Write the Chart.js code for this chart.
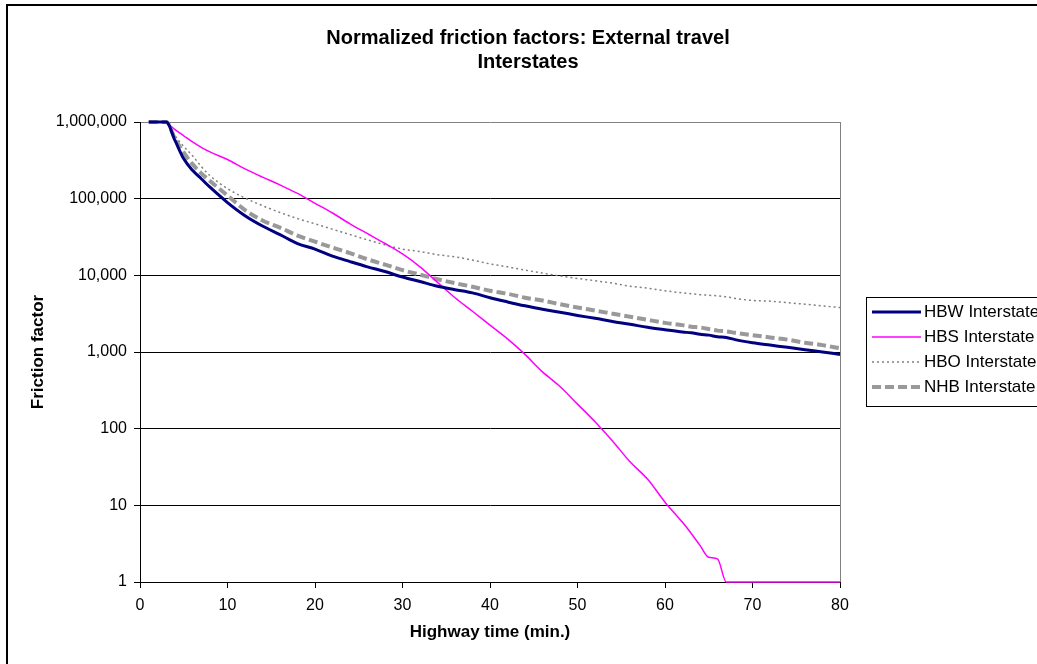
<!DOCTYPE html>
<html>
<head>
<meta charset="utf-8">
<title>Normalized friction factors: External travel</title>
<script src="https://cdn.jsdelivr.net/npm/chart.js@4.4.1/dist/chart.umd.min.js"></script>
<style>
    html, body { margin: 0; padding: 0; background: #fff; }
    #wrap { width: 1037px; height: 664px; }
</style>
</head>
<body>
<div id="wrap"><canvas id="frictionChart" width="1037" height="664"></canvas></div>
<script>
// highway time in minutes
const minutes = [1, 2, 3, 4, 5, 6, 7, 8, 10, 12, 14, 16, 18, 20, 22, 24, 26, 28, 30, 32, 34, 36, 38, 40,
    42, 44, 46, 48, 50, 52, 54, 56, 58, 60, 62, 63, 64, 65, 66, 67, 68, 70, 72, 74, 76, 78, 80];

const hbwInterstate = [1000000, 1000000, 1000000, 575000, 331000, 234000, 182000, 141000, 89000, 60000,
    44000, 34000, 26000, 22000, 17800, 15100, 12900, 11200, 9500, 8300, 7200, 6500, 5900, 5100,
    4500, 4000, 3600, 3300, 3000, 2750, 2500, 2300, 2100, 1950, 1820, 1780, 1700, 1660, 1580, 1550,
    1450, 1320, 1230, 1150, 1070, 1000, 930];

const hbsInterstate = [1000000, 1000000, 970000, 794000, 661000, 550000, 468000, 407000, 324000, 245000,
    191000, 151000, 117000, 87000, 65000, 47000, 35000, 26000, 19000, 12900, 8100, 5100, 3400, 2240,
    1480, 930, 550, 355, 209, 123, 69, 37, 22, 11, 6, 4.3, 3.0, 2.1, 2.0, 1,
    1, 1, 1, 1, 1, 1, 1];

const hboInterstate = [1000000, 1000000, 1000000, 661000, 479000, 363000, 263000, 200000, 135000, 102000,
    81000, 66000, 55000, 47000, 40000, 34000, 29000, 25000, 22000, 20400, 18600, 17400, 15800, 14100,
    12900, 11700, 10700, 9800, 9100, 8500, 7900, 7200, 6800, 6300, 5900, 5750, 5600, 5500, 5400, 5250,
    5000, 4700, 4600, 4400, 4200, 4000, 3800];

const nhbInterstate = [1000000, 1000000, 1000000, 603000, 398000, 282000, 214000, 170000, 110000, 71000,
    52000, 42000, 33000, 27500, 23000, 19500, 16200, 13800, 11700, 10200, 8900, 7900, 7100, 6300,
    5750, 5100, 4700, 4200, 3800, 3470, 3160, 2880, 2630, 2400, 2240, 2140, 2090, 2000, 1900, 1860,
    1780, 1660, 1550, 1450, 1320, 1230, 1120];

const yTicks = [1, 10, 100, 1000, 10000, 100000, 1000000];

const FONT = '"Liberation Sans", Arial, sans-serif';

function points(values) {
    return minutes.map((m, i) => ({ x: m, y: values[i] }));
}

// outer frame, right edge of the plot and the boxed legend
const frameAndLegend = {
    id: 'frameAndLegend',
    beforeDraw(chart) {
        const ctx = chart.ctx;
        ctx.save();
        ctx.fillStyle = '#fff';
        ctx.fillRect(0, 0, chart.width, chart.height);
        ctx.strokeStyle = '#000';
        ctx.lineWidth = 2;
        ctx.strokeRect(7, 5, 2000, 2000);
        ctx.restore();
    },
    beforeDatasetsDraw(chart) {
        const { ctx, chartArea } = chart;
        ctx.save();
        ctx.strokeStyle = '#808080';
        ctx.lineWidth = 1;
        ctx.beginPath();
        ctx.moveTo(chartArea.right + 0.5, chartArea.top);
        ctx.lineTo(chartArea.right + 0.5, chartArea.bottom);
        ctx.stroke();
        ctx.restore();
    },
    afterDraw(chart) {
        const ctx = chart.ctx;
        ctx.save();
        ctx.fillStyle = '#fff';
        ctx.fillRect(866, 297, 300, 110);
        ctx.strokeStyle = '#000';
        ctx.lineWidth = 1;
        ctx.strokeRect(866.5, 297.5, 300, 109);
        chart.data.datasets.forEach((ds, i) => {
            const y = 312 + i * 25;
            ctx.strokeStyle = ds.borderColor;
            ctx.lineWidth = ds.borderWidth;
            ctx.setLineDash(ds.borderDash || []);
            ctx.beginPath();
            ctx.moveTo(872, y);
            ctx.lineTo(921, y);
            ctx.stroke();
            ctx.setLineDash([]);
            ctx.fillStyle = '#000';
            ctx.font = '17px ' + FONT;
            ctx.textBaseline = 'middle';
            ctx.fillText(ds.label, 924, y);
        });
        ctx.restore();
    }
};

const ctx = document.getElementById('frictionChart').getContext('2d');

new Chart(ctx, {
    type: 'line',
    data: {
        datasets: [
            { label: 'HBW Interstate', data: points(hbwInterstate), borderColor: '#000080', borderWidth: 3 },
            { label: 'HBS Interstate', data: points(hbsInterstate), borderColor: '#ff00ff', borderWidth: 1.5 },
            { label: 'HBO Interstate', data: points(hboInterstate), borderColor: '#808080', borderWidth: 1.5, borderDash: [2, 3] },
            { label: 'NHB Interstate', data: points(nhbInterstate), borderColor: '#999999', borderWidth: 4, borderDash: [9, 4] }
        ]
    },
    options: {
        responsive: false,
        animation: false,
        devicePixelRatio: 1,
        elements: {
            point: { radius: 0, hoverRadius: 0 },
            line: { cubicInterpolationMode: 'monotone', fill: false }
        },
        datasets: { line: { clip: 4 } },
        layout: { padding: { left: 19, right: 0, top: 0, bottom: 0 } },
        plugins: {
            legend: { display: false },
            tooltip: { enabled: false },
            title: {
                display: true,
                text: ['Normalized friction factors: External travel', 'Interstates'],
                color: '#000',
                font: { family: FONT, size: 20, weight: 'bold', lineHeight: 1.2 },
                padding: { top: 26, bottom: 48 }
            }
        },
        scales: {
            x: {
                type: 'linear',
                min: 0,
                max: 80,
                ticks: { stepSize: 10, color: '#000', font: { family: FONT, size: 16 }, padding: 8, maxRotation: 0 },
                grid: { drawOnChartArea: false, drawTicks: true, tickLength: 6, tickColor: '#000' },
                border: { color: '#000', width: 1 },
                title: {
                    display: true,
                    text: 'Highway time (min.)',
                    color: '#000',
                    font: { family: FONT, size: 17, weight: 'bold' },
                    padding: { top: 0, bottom: 21 }
                },
                afterFit(scale) { scale.height = 82; }
            },
            y: {
                type: 'logarithmic',
                min: 1,
                max: 1000000,
                afterBuildTicks(scale) { scale.ticks = yTicks.map(v => ({ value: v })); },
                ticks: {
                    color: '#000',
                    font: { family: FONT, size: 16 },
                    padding: 7,
                    callback: v => Number(v).toLocaleString('en-US')
                },
                grid: {
                    color: c => (c.tick && c.tick.value === 1000000 ? '#808080' : '#000'),
                    tickLength: 6,
                    tickColor: '#000'
                },
                border: { color: '#000', width: 1 },
                title: {
                    display: true,
                    text: 'Friction factor',
                    color: '#000',
                    font: { family: FONT, size: 17, weight: 'bold' },
                    padding: { top: 9, bottom: 0 }
                },
                afterFit(scale) { scale.width = 121; }
            },
            spacer: {
                type: 'linear',
                position: 'right',
                min: 0,
                max: 1,
                ticks: { display: false },
                grid: { display: false },
                border: { display: false },
                afterFit(scale) { scale.width = 197; }
            }
        }
    },
    plugins: [frameAndLegend]
});
</script>
</body>
</html>
